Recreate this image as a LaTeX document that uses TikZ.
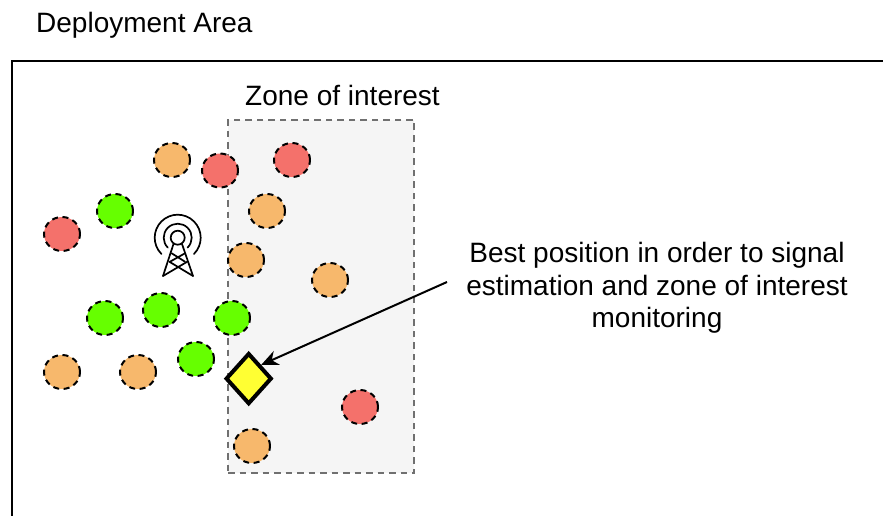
\documentclass[tikz,border=0pt]{standalone}
\usepackage{fontspec}
\setmainfont{Liberation Sans}
\usetikzlibrary{shapes.geometric,arrows.meta}
\definecolor{orangefill}{HTML}{F7B86C}
\definecolor{redfill}{HTML}{F4716B}
\definecolor{greenfill}{HTML}{66FF00}
\definecolor{zonefill}{HTML}{F5F5F5}
\definecolor{zoneline}{HTML}{707070}
\definecolor{diamondfill}{HTML}{FFFF33}
\tikzset{
  sensor/.style={ellipse,draw=black,line width=2pt,dash pattern=on 6pt off 4.5pt,minimum width=36pt,minimum height=34pt,inner sep=0pt},
  orangesensor/.style={sensor,fill=orangefill},
  redsensor/.style={sensor,fill=redfill},
  greensensor/.style={sensor,fill=greenfill},
  label/.style={inner sep=0pt,font=\fontsize{28}{32.5}\selectfont,text=black},
  tower/.style={line width=1.7pt,line cap=round,line join=round},
}
\begin{document}
\begin{tikzpicture}[x=1pt,y=-1pt]
\useasboundingbox (0,0) rectangle (883,516);
\draw[line width=2pt] (883,61) -- (12,61) -- (12,516);
\node[label,anchor=west] (deploy) at (36,25) {Deployment Area};
\node[label] (zonelabel) at (342.5,95.5) {Zone of interest};
\node[draw=zoneline,fill=zonefill,line width=2pt,dash pattern=on 6.5pt off 5pt,minimum width=186pt,minimum height=353pt,inner sep=0pt] (zone) at (321,296.5) {};
\node[orangesensor] (o1) at (172,160) {};
\node[orangesensor] (o2) at (267,211) {};
\node[orangesensor] (o3) at (246,260) {};
\node[orangesensor] (o4) at (330,280) {};
\node[orangesensor] (o5) at (62,372) {};
\node[orangesensor] (o6) at (138,372) {};
\node[orangesensor] (o7) at (252,446) {};
\node[redsensor] (r1) at (220,170.5) {};
\node[redsensor] (r2) at (292,160) {};
\node[redsensor] (r3) at (62,234) {};
\node[redsensor] (r4) at (360,407) {};
\node[greensensor] (g1) at (115,211) {};
\node[greensensor] (g2) at (105,318) {};
\node[greensensor] (g3) at (161,310) {};
\node[greensensor] (g4) at (232,318) {};
\node[greensensor] (g5) at (196,359) {};
\node[diamond,aspect=0.9,draw=black,fill=diamondfill,line width=4pt,minimum width=46pt,minimum height=51pt,inner sep=0pt] (best) at (248.7,378.6) {};
\node[label,align=center] (note) at (657,288) {Best position in order to signal\\estimation and zone of interest\\monitoring};
\coordinate (arrowstart) at (447,282);
\draw[line width=2pt,-{Stealth[length=17pt,width=15pt]}] (arrowstart) -- (best.north east);
\begin{scope}[tower]
\draw (177.7,237.7) circle[radius=7];
\draw (177.7,237.7) ++(135:14) arc[start angle=135,end angle=405,radius=14];
\draw (177.7,237.7) ++(135:23) arc[start angle=135,end angle=405,radius=23];
\draw (173.5,244) -- (163,276);
\draw (182,244) -- (193,276);
\draw (171.7,253.3) -- (185,261.7) (185,253.3) -- (170,261.7);
\draw (169.3,261.7) -- (193,276) (187.3,261.7) -- (163,276);
\end{scope}
\end{tikzpicture}
\end{document}
